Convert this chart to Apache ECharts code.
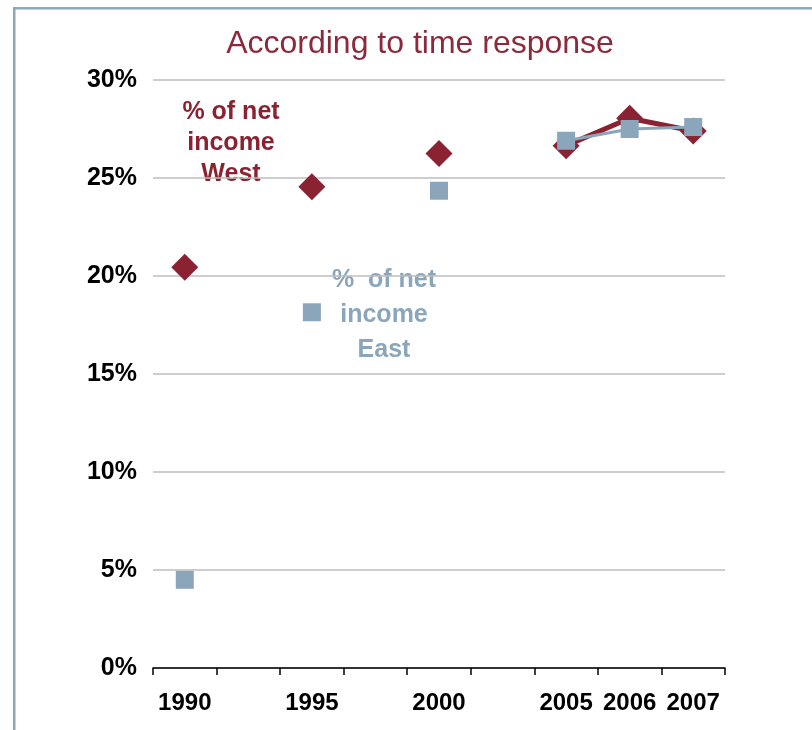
<!DOCTYPE html>
<html>
<head>
<meta charset="utf-8">
<style>html,body{margin:0;padding:0;background:#fff}#c{width:812px;height:730px}</style>
<script src="https://cdn.jsdelivr.net/npm/echarts@6/dist/echarts.min.js"></script>
</head>
<body>
<div id="c"></div>
<script>
var categories = ['1990', '', '1995', '', '2000', '', '2005', '2006', '2007'];
var westValues = [20.45, null, 24.55, null, 26.25, null, 26.65, 28.05, 27.4];
var eastValues = [4.5, null, 18.15, null, 24.35, null, 26.9, 27.5, 27.6];
var yTicks = [0, 5, 10, 15, 20, 25, 30];
var titleText = 'According to time response';
var westLabel = '% of net\nincome\nWest';
var eastLabel = '%  of net\nincome\nEast';

var westColor = '#8B2232';
var eastColor = '#8BA6BA';

var chart = echarts.init(document.getElementById('c'), null, {renderer: 'canvas'});
chart.setOption({
  animation: false,
  backgroundColor: '#fff',
  title: {
    text: titleText,
    left: 415, top: 23, textAlign: 'center',
    textStyle: {color: '#8B2A3C', fontFamily: 'Liberation Sans', fontWeight: 'normal', fontSize: 32}
  },
  grid: {left: 153, right: 87, top: 80, bottom: 62, containLabel: false},
  xAxis: {
    type: 'category',
    data: categories,
    boundaryGap: true,
    axisLine: {lineStyle: {color: '#000', width: 1.5}},
    axisTick: {show: true, interval: 0, length: 7, lineStyle: {color: '#000', width: 1.5}},
    axisLabel: {interval: 0, color: '#000', fontFamily: 'Liberation Sans', fontWeight: 'bold', fontSize: 24, margin: 23},
    splitLine: {show: false}
  },
  yAxis: {
    type: 'value',
    min: yTicks[0], max: yTicks[yTicks.length - 1], interval: 5,
    axisLine: {show: false},
    axisTick: {show: false},
    axisLabel: {formatter: '{value}%', color: '#000', fontFamily: 'Liberation Sans', fontWeight: 'bold', fontSize: 25, margin: 16},
    splitLine: {lineStyle: {color: '#BEBEBE', width: 1.5}}
  },
  series: [
    {
      name: 'West', type: 'line', data: westValues, connectNulls: false,
      symbol: 'diamond', symbolSize: 27,
      lineStyle: {color: westColor, width: 5},
      itemStyle: {color: westColor},
      z: 2
    },
    {
      name: 'East', type: 'line', data: eastValues, connectNulls: false,
      symbol: 'rect', symbolSize: 18,
      lineStyle: {color: eastColor, width: 3},
      itemStyle: {color: eastColor},
      z: 3
    }
  ],
  graphic: [
    {type: 'rect', shape: {x: 13, y: 7, width: 2.5, height: 730}, style: {fill: '#8DA7BB'}},
    {type: 'rect', shape: {x: 13, y: 7, width: 800, height: 2.5}, style: {fill: '#8DA7BB'}},
    {type: 'text', x: 231, y: 97, style: {text: westLabel, fill: westColor, font: 'bold 25px "Liberation Sans"', textAlign: 'center', lineHeight: 31}},
    {type: 'text', x: 384, y: 263, style: {text: eastLabel, fill: eastColor, font: 'bold 25px "Liberation Sans"', textAlign: 'center', lineHeight: 35}}
  ]
});
</script>
</body>
</html>
